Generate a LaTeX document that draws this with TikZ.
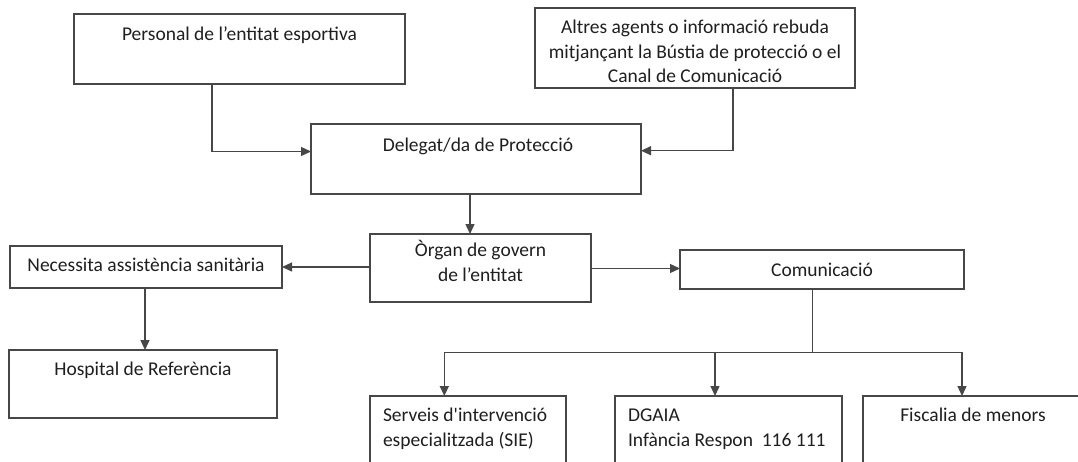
\documentclass[tikz,border=0pt]{standalone}
\usepackage{fontspec}
\setmainfont{Carlito}
\usetikzlibrary{arrows.meta,calc}
\begin{document}
\begin{tikzpicture}[x=1pt,y=-1pt,
  box/.style={draw=black!72, line width=1.3pt, inner sep=0pt, outer sep=0pt, rectangle},
  lbl/.style={text=black!88, font=\fontsize{19.5}{24.5}\selectfont, inner sep=0pt, outer sep=0pt},
  conn/.style={draw=black!72, line width=1.3pt},
  arr/.style={conn, -{Triangle[length=10pt,width=9pt]}},
]
\useasboundingbox (0,0) rectangle (1078,461);
\clip (0,0) rectangle (1078,461);
\fill[white] (0,0) rectangle (1078,461);

% boxes
\node[box, minimum width=331pt, minimum height=70pt] (personal) at (239.5,49) {};
\node[box, minimum width=320pt, minimum height=80pt] (altres) at (695,48) {};
\node[box, minimum width=330pt, minimum height=70pt] (delegat) at (476,159) {};
\node[box, minimum width=221pt, minimum height=68pt] (organ) at (480.5,268) {};
\node[box, minimum width=272pt, minimum height=42pt] (necessita) at (146,267) {};
\node[box, minimum width=284pt, minimum height=39pt] (comunica) at (822,269.5) {};
\node[box, minimum width=268pt, minimum height=68pt] (hospital) at (143,384) {};
\node[box, minimum width=196pt, minimum height=84pt] (serveis) at (468,438) {};
\node[box, minimum width=227pt, minimum height=84pt] (dgaia) at (728.5,438) {};
\node[box, minimum width=220pt, minimum height=84pt] (fiscalia) at (973,438) {};

% texts
\node[lbl, anchor=base] (personal-t) at (239.5,40) {Personal de l’entitat esportiva};
\node[lbl, anchor=base] (altres-t1) at (695,33) {Altres agents o informació rebuda};
\node[lbl, anchor=base] (altres-t2) at (695,58) {mitjançant la Bústia de protecció o el};
\node[lbl, anchor=base] (altres-t3) at (695,82) {Canal de Comunicació};
\node[lbl, anchor=base] (delegat-t) at (478,151) {Delegat/da de Protecció};
\node[lbl, anchor=base] (organ-t1) at (480.5,256) {Òrgan de govern};
\node[lbl, anchor=base] (organ-t2) at (480.5,281) {de l’entitat};
\node[lbl, anchor=base] (necessita-t) at (146,271) {Necessita assistència sanitària};
\node[lbl, anchor=base] (comunica-t) at (822,276) {Comunicació};
\node[lbl, anchor=base] (hospital-t) at (143,375) {Hospital de Referència};
\node[lbl, anchor=base west] (serveis-t1) at (383,421) {Serveis d\textquotesingle intervenció};
\node[lbl, anchor=base west] (serveis-t2) at (383,446) {especialitzada (SIE)};
\node[lbl, anchor=base west] (dgaia-t1) at (628,421) {DGAIA};
\node[lbl, anchor=base west] (dgaia-t2) at (628,446) {Infància Respon\ \ 116 111};
\node[lbl, anchor=base] (fiscalia-t) at (973,421) {Fiscalia de menors};

% connectors
\coordinate (pj) at (212,151.5);
\coordinate (aj) at (733,150.7);
\coordinate (cj) at (812.7,352.3);
\coordinate (sj) at (444.3,352.3);
\coordinate (dj) at (715,352.3);
\coordinate (fj) at (962,352.3);

\draw[arr] (personal.south -| pj) -- (pj) -- (delegat.west |- pj);
\draw[arr] (altres.south -| aj) -- (aj) -- (delegat.east |- aj);
\draw[arr] (delegat.south -| 470,0) -- (organ.north -| 470,0);
\draw[arr] (organ.west |- 0,267) -- (necessita.east |- 0,267);
\draw[arr] (organ.east |- 0,268.5) -- (comunica.west |- 0,268.5);
\draw[arr] (necessita.south -| 145,0) -- (hospital.north -| 145,0);
\draw[conn] (comunica.south -| cj) -- (cj);
\draw[conn] (sj) -- (fj);
\draw[arr] (sj) -- (serveis.north -| sj);
\draw[arr] (dj) -- (dgaia.north -| dj);
\draw[arr] (fj) -- (fiscalia.north -| fj);
\end{tikzpicture}
\end{document}
